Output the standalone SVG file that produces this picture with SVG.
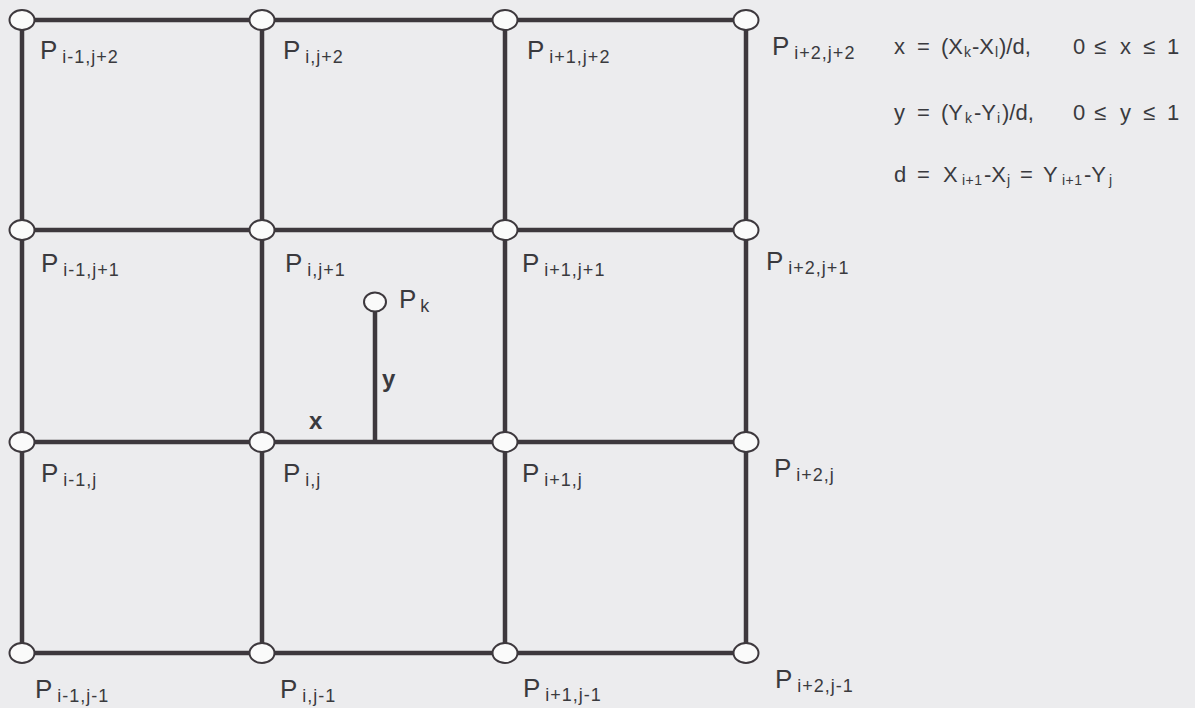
<svg xmlns="http://www.w3.org/2000/svg" width="1195" height="708" viewBox="0 0 1195 708">
<style>
.bg{fill:#ececee}
.ln{stroke:#3d383d;stroke-width:4.5;stroke-linecap:butt;fill:none}
.nd{fill:#fafafa;stroke:#3d383d;stroke-width:2}
.p{font-family:"Liberation Sans",Arial,sans-serif;font-size:26px;fill:#3a3a3e}
.s{font-size:18px;letter-spacing:1px}
.eq{font-family:"Liberation Sans",Arial,sans-serif;font-size:22px;fill:#3a3a3e}
.es{font-size:14px;letter-spacing:0.5px}
.lab{font-family:"Liberation Sans",Arial,sans-serif;font-size:24px;font-weight:bold;fill:#3a3a3e}
</style>
<rect class="bg" x="0" y="0" width="1195" height="708"/>
<g id="connectors">
<line class="ln" x1="22" y1="20" x2="746" y2="20"/>
<line class="ln" x1="22" y1="230" x2="746" y2="230"/>
<line class="ln" x1="22" y1="442" x2="746" y2="442"/>
<line class="ln" x1="22" y1="653" x2="746" y2="653"/>
<line class="ln" x1="22" y1="20" x2="22" y2="653"/>
<line class="ln" x1="262" y1="20" x2="262" y2="653"/>
<line class="ln" x1="505" y1="20" x2="505" y2="653"/>
<line class="ln" x1="746" y1="20" x2="746" y2="653"/>
<line class="ln" x1="375" y1="312" x2="375" y2="442"/>
</g>
<g id="n-im1-jp2"><ellipse class="nd" cx="22" cy="20" rx="12.5" ry="10"/><text class="p" x="40" y="59">P<tspan class="s" dx="5" dy="4">i-1,j+2</tspan></text></g>
<g id="n-i-jp2"><ellipse class="nd" cx="262" cy="20" rx="12.5" ry="10"/><text class="p" x="283" y="59">P<tspan class="s" dx="5" dy="4">i,j+2</tspan></text></g>
<g id="n-ip1-jp2"><ellipse class="nd" cx="505" cy="20" rx="12.5" ry="10"/><text class="p" x="527" y="59">P<tspan class="s" dx="5" dy="4">i+1,j+2</tspan></text></g>
<g id="n-ip2-jp2"><ellipse class="nd" cx="746" cy="20" rx="12.5" ry="10"/><text class="p" x="772" y="55">P<tspan class="s" dx="5" dy="4">i+2,j+2</tspan></text></g>
<g id="n-im1-jp1"><ellipse class="nd" cx="22" cy="230" rx="12.5" ry="10"/><text class="p" x="41" y="272">P<tspan class="s" dx="5" dy="4">i-1,j+1</tspan></text></g>
<g id="n-i-jp1"><ellipse class="nd" cx="262" cy="230" rx="12.5" ry="10"/><text class="p" x="285" y="272">P<tspan class="s" dx="5" dy="4">i,j+1</tspan></text></g>
<g id="n-ip1-jp1"><ellipse class="nd" cx="505" cy="230" rx="12.5" ry="10"/><text class="p" x="522" y="272">P<tspan class="s" dx="5" dy="4">i+1,j+1</tspan></text></g>
<g id="n-ip2-jp1"><ellipse class="nd" cx="746" cy="230" rx="12.5" ry="10"/><text class="p" x="766" y="270">P<tspan class="s" dx="5" dy="4">i+2,j+1</tspan></text></g>
<g id="n-im1-j"><ellipse class="nd" cx="22" cy="442" rx="12.5" ry="10"/><text class="p" x="41" y="482">P<tspan class="s" dx="5" dy="4">i-1,j</tspan></text></g>
<g id="n-i-j"><ellipse class="nd" cx="262" cy="442" rx="12.5" ry="10"/><text class="p" x="283" y="482">P<tspan class="s" dx="5" dy="4">i,j</tspan></text></g>
<g id="n-ip1-j"><ellipse class="nd" cx="505" cy="442" rx="12.5" ry="10"/><text class="p" x="522" y="482">P<tspan class="s" dx="5" dy="4">i+1,j</tspan></text></g>
<g id="n-ip2-j"><ellipse class="nd" cx="746" cy="442" rx="12.5" ry="10"/><text class="p" x="774" y="477">P<tspan class="s" dx="5" dy="4">i+2,j</tspan></text></g>
<g id="n-im1-jm1"><ellipse class="nd" cx="22" cy="653" rx="12.5" ry="10"/><text class="p" x="35" y="698">P<tspan class="s" dx="5" dy="4">i-1,j-1</tspan></text></g>
<g id="n-i-jm1"><ellipse class="nd" cx="262" cy="653" rx="12.5" ry="10"/><text class="p" x="280" y="698">P<tspan class="s" dx="5" dy="4">i,j-1</tspan></text></g>
<g id="n-ip1-jm1"><ellipse class="nd" cx="505" cy="653" rx="12.5" ry="10"/><text class="p" x="523" y="697">P<tspan class="s" dx="5" dy="4">i+1,j-1</tspan></text></g>
<g id="n-ip2-jm1"><ellipse class="nd" cx="746" cy="653" rx="12.5" ry="10"/><text class="p" x="775" y="688">P<tspan class="s" dx="5" dy="4">i+2,j-1</tspan></text></g>
<g id="n-pk"><ellipse class="nd" cx="375" cy="302" rx="11" ry="9.5"/><text class="p" x="399" y="308">P<tspan class="s" dx="4" dy="4">k</tspan></text></g>
<g id="labels">
<text class="lab" x="382" y="387">y</text>
<text class="lab" x="309" y="429">x</text>
</g>
<g id="equations">
<text class="eq" x="894" y="54">x<tspan x="917">=</tspan><tspan x="941">(X</tspan><tspan class="es" x="964" y="57">k</tspan><tspan x="972" y="54">-X</tspan><tspan class="es" x="995" y="57">l</tspan><tspan x="999" y="54">)/d,</tspan><tspan x="1073">0</tspan><tspan x="1094">≤</tspan><tspan x="1120">x</tspan><tspan x="1143">≤</tspan><tspan x="1167">1</tspan></text>
<text class="eq" x="894" y="120">y<tspan x="917">=</tspan><tspan x="941">(Y</tspan><tspan class="es" x="965" y="123">k</tspan><tspan x="974" y="120">-Y</tspan><tspan class="es" x="997" y="123">i</tspan><tspan x="1002" y="120">)/d,</tspan><tspan x="1073">0</tspan><tspan x="1094">≤</tspan><tspan x="1120">y</tspan><tspan x="1143">≤</tspan><tspan x="1167">1</tspan></text>
<text class="eq" x="894" y="182">d<tspan x="917">=</tspan><tspan x="943">X</tspan><tspan class="es" x="962" y="185">i+1</tspan><tspan x="984" y="182">-X</tspan><tspan class="es" x="1007" y="185">j</tspan><tspan x="1020" y="182">=</tspan><tspan x="1043">Y</tspan><tspan class="es" x="1062" y="185">i+1</tspan><tspan x="1084" y="182">-Y</tspan><tspan class="es" x="1109" y="185">j</tspan></text>
</g>
</svg>
